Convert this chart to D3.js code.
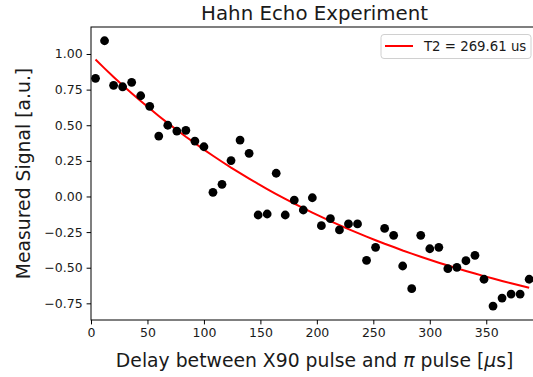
<!DOCTYPE html>
<html>
<head>
<meta charset="utf-8">
<script src="https://cdn.jsdelivr.net/npm/d3@7"></script>
<style>
  body { margin: 0; background: #fff; }
  svg { display: block; font-family: "DejaVu Sans", sans-serif; }
</style>
</head>
<body>
<svg id="chart" width="533" height="377"></svg>
<script>
// delay (us)
const delays = [4, 12, 20, 28, 36, 44, 52, 60, 68, 76, 84, 92, 100, 108, 116, 124, 132, 140, 148, 156,
  164, 172, 180, 188, 196, 204, 212, 220, 228, 236, 244, 252, 260, 268, 276, 284, 292, 300, 308, 316,
  324, 332, 340, 348, 356, 364, 372, 380, 388];
// measured signal
const signal = [0.829, 1.093, 0.780, 0.770, 0.801, 0.707, 0.633, 0.424, 0.500, 0.459, 0.464, 0.389, 0.349,
  0.029, 0.085, 0.252, 0.396, 0.303, -0.130, -0.123, 0.163, -0.130, -0.025, -0.095, -0.009, -0.205,
  -0.156, -0.235, -0.193, -0.193, -0.448, -0.357, -0.224, -0.273, -0.488, -0.647, -0.273, -0.367,
  -0.357, -0.507, -0.497, -0.451, -0.413, -0.581, -0.769, -0.713, -0.685, -0.685, -0.581];
// fitted curve at the same delays
const fitSignal = [0.961, 0.899, 0.839, 0.781, 0.725, 0.670, 0.617, 0.565, 0.515, 0.467, 0.419, 0.374,
  0.329, 0.286, 0.244, 0.203, 0.164, 0.126, 0.088, 0.052, 0.017, -0.017, -0.050, -0.082, -0.113,
  -0.143, -0.173, -0.201, -0.229, -0.256, -0.282, -0.307, -0.332, -0.355, -0.379, -0.401, -0.423,
  -0.444, -0.465, -0.485, -0.504, -0.523, -0.541, -0.559, -0.576, -0.593, -0.609, -0.625, -0.640];
const xTicks = [0, 50, 100, 150, 200, 250, 300, 350];
const yTicks = [-0.75, -0.5, -0.25, 0, 0.25, 0.5, 0.75, 1.0];
const legendLabel = "T2 = 269.61 us";

const svg = d3.select("#chart");
const plotL = 91, plotR = 538.2, plotT = 27, plotB = 320;
const textColor = "#1a1a1a";

const x = d3.scaleLinear().domain([0, 396]).range([plotL, plotR]);
const y = d3.scaleLinear().domain([-0.867, 1.1895]).range([plotB, plotT]);

svg.append("defs").append("clipPath").attr("id", "clip")
  .append("rect").attr("x", plotL).attr("y", plotT)
  .attr("width", plotR - plotL).attr("height", plotB - plotT);

// 축
const xAxis = svg.append("g")
  .attr("transform", `translate(0,${plotB})`)
  .call(d3.axisBottom(x).tickValues(xTicks).tickSizeOuter(0).tickSize(4.4).tickPadding(4));
const yAxis = svg.append("g")
  .attr("transform", `translate(${plotL},0)`)
  .call(d3.axisLeft(y).tickValues(yTicks).tickFormat(d3.format(".2f")).tickSizeOuter(0).tickSize(4.4).tickPadding(4));
[xAxis, yAxis].forEach(g => {
  g.selectAll("text").style("font-size", "12.5px").attr("fill", textColor)
    .style("font-family", '"DejaVu Sans", sans-serif');
  g.selectAll("line").attr("stroke", "#000").attr("stroke-width", 1);
  g.select(".domain").remove();
});
xAxis.selectAll("text").attr("dy", "0.71em");

// frame
svg.append("rect")
  .attr("x", plotL).attr("y", plotT)
  .attr("width", plotR - plotL).attr("height", plotB - plotT)
  .attr("fill", "none").attr("stroke", "#000").attr("stroke-width", 1);

const plot = svg.append("g").attr("clip-path", "url(#clip)");

// fit line
const fitPoints = delays.map((d, i) => [d, fitSignal[i]]);
plot.append("path")
  .datum(fitPoints)
  .attr("d", d3.line().x(d => x(d[0])).y(d => y(d[1])))
  .attr("fill", "none")
  .attr("stroke", "#ff0000")
  .attr("stroke-width", 2);

// data points
plot.selectAll("circle.pt")
  .data(delays.map((d, i) => [d, signal[i]]))
  .join("circle")
  .attr("class", "pt")
  .attr("cx", d => x(d[0]))
  .attr("cy", d => y(d[1]))
  .attr("r", 4.4)
  .attr("fill", "#000");

// legend
const lg = svg.append("g");
lg.append("rect")
  .attr("x", 381).attr("y", 34.5).attr("width", 150).attr("height", 24).attr("rx", 3)
  .attr("fill", "#fff").attr("fill-opacity", 0.8)
  .attr("stroke", "#d0d0d0").attr("stroke-width", 1);
lg.append("line")
  .attr("x1", 385).attr("x2", 413).attr("y1", 46).attr("y2", 46)
  .attr("stroke", "#ff0000").attr("stroke-width", 2);
lg.append("text")
  .attr("x", 424).attr("y", 51)
  .style("font-size", "13.3px").attr("fill", textColor)
  .text(legendLabel);

// titles
svg.append("text")
  .attr("x", (plotL + plotR) / 2).attr("y", 20)
  .attr("text-anchor", "middle")
  .style("font-size", "19.8px").attr("fill", textColor)
  .text("Hahn Echo Experiment");

const xLabel = svg.append("text")
  .attr("x", (plotL + plotR) / 2).attr("y", 367)
  .attr("text-anchor", "middle")
  .style("font-size", "18.8px").attr("fill", textColor);
xLabel.append("tspan").text("Delay between X90 pulse and ");
xLabel.append("tspan").style("font-style", "italic").text("\u03c0");
xLabel.append("tspan").text(" pulse [");
xLabel.append("tspan").style("font-style", "italic").text("\u03bc");
xLabel.append("tspan").text("s]");

svg.append("text")
  .attr("transform", `translate(29.5,${(plotT + plotB) / 2}) rotate(-90)`)
  .attr("text-anchor", "middle")
  .style("font-size", "18.8px").attr("fill", textColor)
  .text("Measured Signal [a.u.]");
</script>
</body>
</html>
